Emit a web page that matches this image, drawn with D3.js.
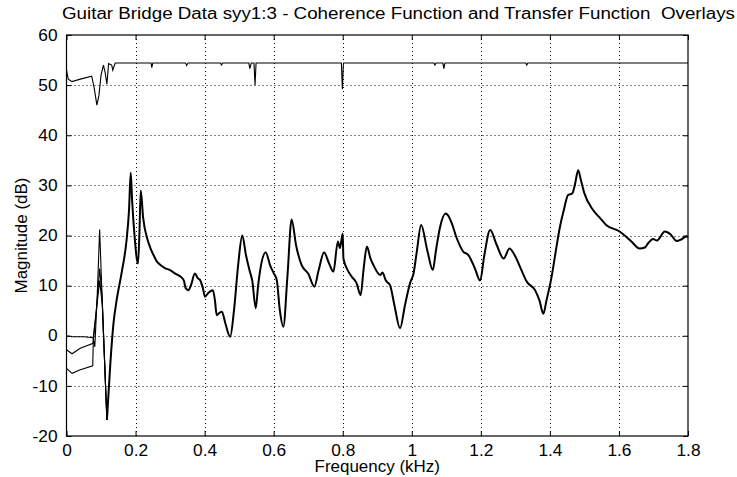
<!DOCTYPE html>
<html>
<head>
<meta charset="utf-8">
<script src="https://cdn.jsdelivr.net/npm/d3@7"></script>
<style>
  body { margin: 0; background: #fff; }
  text { font-family: "Liberation Sans", Arial, sans-serif; fill: #000; }
</style>
</head>
<body>
<svg id="chart" width="737" height="477"></svg>
<script>
var titleText = "Guitar Bridge Data syy1:3 - Coherence Function and Transfer Function  Overlays";
var xTicks = [0, 0.2, 0.4, 0.6, 0.8, 1, 1.2, 1.4, 1.6, 1.8];
var xTickLabels = ["0", "0.2", "0.4", "0.6", "0.8", "1", "1.2", "1.4", "1.6", "1.8"];
var yTicks = [-20, -10, 0, 10, 20, 30, 40, 50, 60];
var yTickLabels = ["-20", "-10", "0", "10", "20", "30", "40", "50", "60"];

// coherence trace (scaled onto dB axis)
var coherence = [[0,53],[0.005,51.2],[0.016,50.7],[0.04,51.2],[0.073,51.8],[0.08,49.5],[0.088,46],[0.094,48],
  [0.1,52],[0.107,54],[0.112,52.5],[0.117,50.2],[0.122,54.3],[0.131,54],[0.134,53],[0.141,54.4],
  [0.245,54.4],[0.247,53.5],[0.25,54.4],[0.345,54.4],[0.348,53.9],[0.352,54.4],[0.446,54.4],[0.449,54.0],
  [0.452,54.4],[0.528,54.4],[0.531,53.3],[0.535,54.4],[0.543,54.4],[0.546,50],[0.549,54.4],[0.796,54.4],
  [0.799,49.2],[0.802,54.4],[1.064,54.4],[1.067,54.0],[1.07,54.4],[1.09,54.4],[1.093,53.3],[1.096,54.4],
  [1.33,54.4],[1.333,54.0],[1.336,54.4],[1.8,54.4]];

// low-frequency parts of the three transfer functions (they differ here)
var tfLowA = [[0,0],[0.016,-0.2],[0.05,-0.2],[0.077,-0.4],[0.082,-2.2],[0.089,8],[0.096,21.2],[0.106,2],[0.117,-16.8]];
var tfLowB = [[0,-2.8],[0.016,-3.6],[0.04,-2.5],[0.077,-1.5],[0.085,4],[0.096,13.4],[0.103,8],[0.117,-16.8]];
var tfLowC = [[0,-6.5],[0.016,-7.5],[0.04,-6.8],[0.076,-6],[0.078,0],[0.088,6],[0.096,11],[0.104,6],[0.117,-16.8]];

// where the three transfer functions overlap
var tfShared = [[0.117,-16.8],[0.127,-5.5],[0.136,2.4],[0.145,7],[0.160,12.7],[0.174,19.1],[0.181,25],[0.186,32.5],
  [0.190,27],[0.197,20],[0.207,14.4],[0.211,20],[0.215,29],[0.222,23.5],[0.235,19.1],[0.243,17.5],[0.252,16.1],
  [0.262,14.8],[0.272,14.1],[0.285,13.5],[0.30,13.1],[0.315,12.4],[0.33,11.8],[0.34,11],[0.345,9.5],[0.353,9.1],
  [0.36,10],[0.372,12.4],[0.38,11.5],[0.387,11.1],[0.395,9.5],[0.401,7.8],[0.41,8.5],[0.424,9.1],[0.43,7],
  [0.435,4.1],[0.442,4.5],[0.45,4.8],[0.46,2.5],[0.474,-0.2],[0.485,5],[0.497,14],[0.509,20],[0.52,16],
  [0.531,12.8],[0.538,11],[0.548,5.5],[0.555,10],[0.561,13.1],[0.577,16.6],[0.59,14],[0.60,12.5],[0.609,11.1],
  [0.618,5],[0.628,1.8],[0.64,12],[0.652,23.2],[0.665,18],[0.681,14.1],[0.70,12.4],[0.718,9.8],[0.73,13],
  [0.746,16.6],[0.76,14.5],[0.773,12.8],[0.786,18.8],[0.792,17.5],[0.80,20.4],[0.802,15.4],[0.815,13],
  [0.826,11.8],[0.84,10.5],[0.852,8.1],[0.86,13],[0.87,17.8],[0.88,15.5],[0.889,14.1],[0.909,12.1],[0.915,12.6],
  [0.925,11],[0.937,10.1],[0.95,6],[0.966,1.5],[0.98,6],[0.995,10.5],[1.005,12.4],[1.015,17],[1.027,22.1],
  [1.045,17],[1.061,13.1],[1.07,17],[1.082,21.7],[1.098,24.4],[1.105,24],[1.116,22.4],[1.13,19.5],[1.149,16.8],
  [1.164,16.1],[1.183,13.4],[1.198,11.0],[1.21,16],[1.227,21.1],[1.246,18.1],[1.266,15.4],[1.283,17.4],
  [1.30,15.8],[1.315,13.5],[1.333,10.8],[1.357,9.1],[1.37,7],[1.381,4.4],[1.39,7],[1.405,11.8],[1.415,16],
  [1.429,21.7],[1.44,25],[1.453,28.1],[1.465,28.4],[1.472,30],[1.482,33.0],[1.49,31],[1.50,28.4],[1.525,25.1],
  [1.545,23.5],[1.563,22.1],[1.602,20.8],[1.62,19.8],[1.636,18.8],[1.66,17.4],[1.675,17.6],[1.685,18.5],
  [1.699,19.3],[1.71,19.0],[1.733,20.8],[1.75,20.2],[1.767,18.9],[1.78,19.2],[1.796,19.8],[1.8,19.6]];

var svg = d3.select("#chart");
var plotL = 66.5, plotR = 688, plotT = 35, plotB = 436;
var x = d3.scaleLinear().domain([0, 1.8]).range([plotL, plotR]);
var y = d3.scaleLinear().domain([-20, 60]).range([plotB, plotT]);

// stretch text a bit, the original font is wider than Arial
function widen(sel, k) {
  sel.each(function() {
    var len = this.getComputedTextLength();
    d3.select(this).attr("textLength", len * k).attr("lengthAdjust", "spacingAndGlyphs");
  });
}

// dotted grid
var grid = svg.append("g").attr("stroke", "#000").attr("stroke-width", 1).attr("stroke-dasharray", "1,3");
grid.selectAll("line.v")
  .data(xTicks.slice(1, -1))
  .enter().append("line")
    .attr("x1", function(d) { return Math.round(x(d)) + 0.5; })
    .attr("x2", function(d) { return Math.round(x(d)) + 0.5; })
    .attr("y1", plotT).attr("y2", plotB);
grid.selectAll("line.h")
  .data(yTicks.slice(1, -1))
  .enter().append("line")
    .attr("y1", function(d) { return Math.round(y(d)) + 0.5; })
    .attr("y2", function(d) { return Math.round(y(d)) + 0.5; })
    .attr("x1", plotL).attr("x2", plotR);

// axes with inward ticks
var xAxis = svg.append("g")
  .attr("transform", "translate(0," + plotB + ")")
  .call(d3.axisBottom(x).tickValues(xTicks)
    .tickFormat(function(d, i) { return xTickLabels[i]; })
    .tickSizeInner(-5).tickSizeOuter(0).tickPadding(11));
svg.append("g")
  .attr("transform", "translate(0," + plotT + ")")
  .call(d3.axisTop(x).tickValues(xTicks).tickFormat("").tickSizeInner(-5).tickSizeOuter(0));
svg.append("g")
  .attr("transform", "translate(" + plotL + ",0)")
  .call(d3.axisLeft(y).tickValues(yTicks)
    .tickFormat(function(d, i) { return yTickLabels[i]; })
    .tickSizeInner(-5).tickSizeOuter(0).tickPadding(9));
svg.append("g")
  .attr("transform", "translate(" + plotR + ",0)")
  .call(d3.axisRight(y).tickValues(yTicks).tickFormat("").tickSizeInner(-5).tickSizeOuter(0));

svg.selectAll(".domain").remove();
svg.selectAll(".tick line").attr("stroke", "#000");
svg.selectAll(".tick text")
  .style("font-family", '"Liberation Sans", Arial, sans-serif')
  .attr("font-size", 16)
  .attr("fill", "#000");
xAxis.selectAll(".tick text").attr("dy", "0.55em");
widen(svg.selectAll(".tick text"), 1.08);

svg.append("rect")
  .attr("x", plotL).attr("y", plotT)
  .attr("width", plotR - plotL).attr("height", plotB - plotT)
  .attr("fill", "none").attr("stroke", "#000").attr("stroke-width", 1.2);

var line = d3.line()
  .x(function(d) { return x(d[0]); })
  .y(function(d) { return y(d[1]); });
var smooth = d3.line()
  .curve(d3.curveMonotoneX)
  .x(function(d) { return x(d[0]); })
  .y(function(d) { return y(d[1]); });

svg.append("path").datum(coherence)
  .attr("d", line).attr("fill", "none").attr("stroke", "#000").attr("stroke-width", 1.1);

[tfLowA, tfLowB, tfLowC].forEach(function(s) {
  svg.append("path").datum(s)
    .attr("d", line).attr("fill", "none").attr("stroke", "#000").attr("stroke-width", 1.1);
});

svg.append("path").datum(tfShared)
  .attr("d", smooth).attr("fill", "none").attr("stroke", "#000")
  .attr("stroke-width", 2).attr("stroke-linejoin", "round");

// labels
svg.append("text")
  .attr("x", 62).attr("y", 19)
  .attr("font-size", 16)
  .style("white-space", "pre")
  .attr("textLength", 673).attr("lengthAdjust", "spacingAndGlyphs")
  .text(titleText);

var xl = svg.append("text")
  .attr("x", (plotL + plotR) / 2).attr("y", 472)
  .attr("text-anchor", "middle").attr("font-size", 16)
  .text("Frequency (kHz)");
widen(xl, 1.06);

var yl = svg.append("text")
  .attr("transform", "translate(27," + ((plotT + plotB) / 2) + ") rotate(-90)")
  .attr("text-anchor", "middle").attr("font-size", 16)
  .text("Magnitude (dB)");
widen(yl, 1.06);
</script>
</body>
</html>
